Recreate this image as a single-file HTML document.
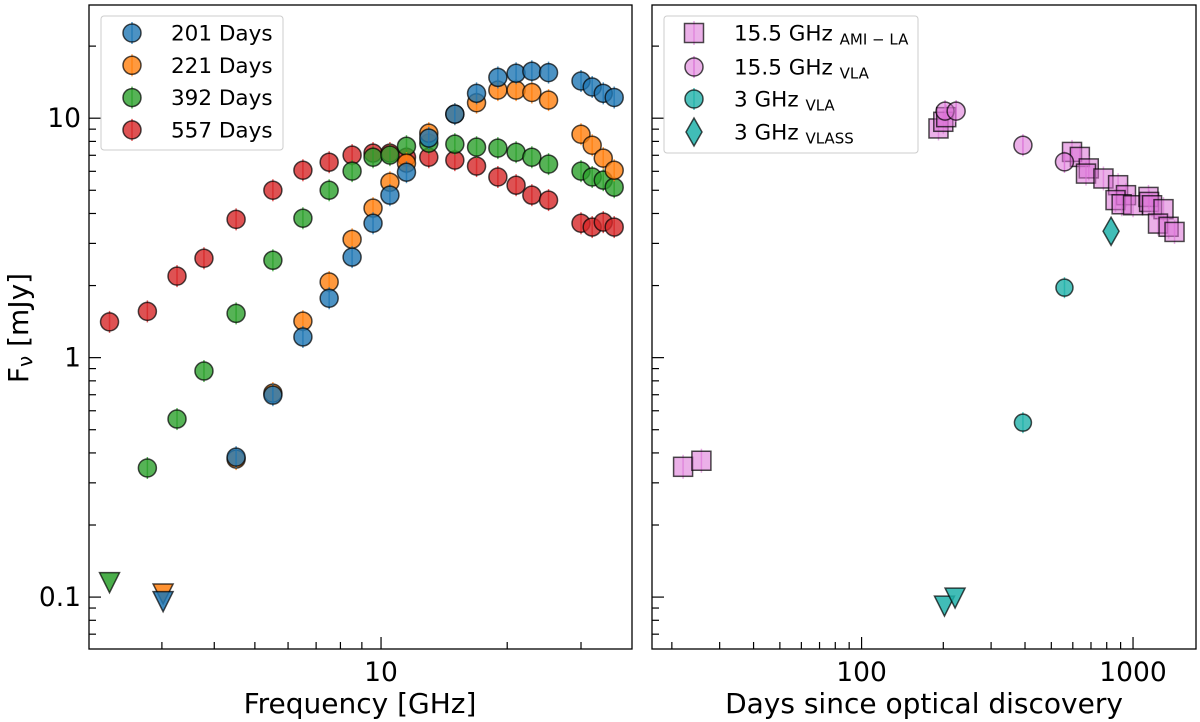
<!DOCTYPE html>
<html><head><meta charset="utf-8"><style>
html,body{margin:0;padding:0;background:#fff;}
svg{display:block;font-family:"DejaVu Sans","Liberation Sans",sans-serif;}
</style></head><body>
<svg id="chart" width="1200" height="722" viewBox="0 0 1200 722" xmlns="http://www.w3.org/2000/svg"></svg>
<script>
// ---------- Left panel data (SED) ----------
const freqs = [2.25,2.77,3.26,3.78,4.51,5.52,6.51,7.52,8.53,9.57,10.5,11.5,13.0,15.0,16.9,19.0,21.0,22.9,25.1,30.0,31.9,33.9,36.0];
const flux557 = [1.41,1.56,2.19,2.60,3.78,5.00,6.06,6.55,7.01,7.15,7.15,6.87,6.87,6.68,6.31,5.68,5.25,4.77,4.55,3.64,3.51,3.68,3.51];
const flux392 = [null,0.346,0.554,0.879,1.53,2.55,3.82,5.00,6.01,6.87,7.01,7.64,7.87,7.79,7.57,7.50,7.21,6.87,6.43,6.01,5.68,5.51,5.15];
const flux221 = [null,null,null,null,0.377,0.711,1.42,2.07,3.12,4.21,5.40,6.49,8.66,10.4,11.6,13.1,13.1,12.8,11.9,8.57,7.71,6.81,6.06];
const flux201 = [null,null,null,null,0.384,0.697,1.22,1.77,2.63,3.64,4.77,5.95,8.26,10.4,12.7,14.8,15.4,15.7,15.5,14.3,13.5,12.7,12.2];
const limitFreqs = [2.25,3.02,3.02];
const limitFlux = [0.116,0.104,0.0966];
const limitSeries = [2,1,0];
const seriesLabels = ["201 Days","221 Days","392 Days","557 Days"];
// ---------- Right panel data (light curve) ----------
const amiDays = [22.0,25.7,192,200,205,596,637,687,671,778,881,942,862,908,1000,1140,1146,1175,1295,1236,1352,1422];
const amiFlux = [0.350,0.371,9.06,9.66,10.1,7.23,6.89,6.17,5.87,5.60,5.25,4.77,4.55,4.37,4.33,4.69,4.47,4.33,4.17,3.63,3.52,3.35];
const vla15Days = [203,223,393,559];
const vla15Flux = [10.7,10.7,7.71,6.57];
const vla3Days = [393,559];
const vla3Flux = [0.535,1.96];
const vla3LimDays = [202,221];
const vla3LimFlux = [0.0926,0.100];
const vlassDays = [830];
const vlassFlux = [3.37];
const rightLabels = ["15.5 GHz","15.5 GHz","3 GHz","3 GHz"];
const rightSubs = ["AMI \u2212 LA","VLA","VLA","VLASS"];

const NS="http://www.w3.org/2000/svg";
const svg=document.getElementById('chart');
function mk(tag,attrs,parent){const e=document.createElementNS(NS,tag);for(const k in attrs)e.setAttribute(k,attrs[k]);(parent||svg).appendChild(e);return e;}

const TOP=5,BOT=649;
const yLogMin=Math.log10(0.0607), yLogMax=Math.log10(29.7);
function Y(v){return BOT-(Math.log10(v)-yLogMin)/(yLogMax-yLogMin)*(BOT-TOP);}
const L={x0:89,x1:632,lmin:Math.log10(2.01),lmax:Math.log10(39.7)};
const R={x0:652,x1:1196,lmin:Math.log10(16.9),lmax:Math.log10(1706)};
function X(p,v){return p.x0+(Math.log10(v)-p.lmin)/(p.lmax-p.lmin)*(p.x1-p.x0);}

const colors=["#1f77b4","#ff7f0e","#2ca02c","#d62728"];
const orchid="#da70d6", teal="#20b2aa";

function axes(p,name,showY){
  const g=mk('g',{});
  
  
  for(let e=-2;e<=1;e++){for(let m=1;m<10;m++){const v=m*Math.pow(10,e);if(v<0.0607||v>29.7)continue;const y=Y(v);
    const t=mk('line',{x1:p.x0,x2:p.x0+(m==1?12:7),y1:y,y2:y,stroke:'#000','stroke-width':1.2},g);
    
    if(m==1&&showY){const tx=mk('text',{x:p.x0-8,y:y+9,'text-anchor':'end','font-size':26.5},g);tx.textContent=(v<1?v.toFixed(1):String(v));
      }
  }}
  for(let e=0;e<=3;e++){for(let m=1;m<10;m++){const v=m*Math.pow(10,e);const lv=Math.log10(v);if(lv<p.lmin||lv>p.lmax)continue;const x=X(p,v);
    const t=mk('line',{x1:x,x2:x,y1:BOT,y2:BOT-(m==1?12:7),stroke:'#000','stroke-width':1.2},g);
    
    if(m==1){const tx=mk('text',{x:x,y:BOT+32,'text-anchor':'middle','font-size':26.5},g);tx.textContent=String(v);
      }
  }}
  const f=mk('rect',{x:p.x0,y:TOP,width:p.x1-p.x0,height:BOT-TOP,fill:'none',stroke:'#000','stroke-width':1.3},g);
  
}
function circle(x,y,c,r,g){
  mk('line',{x1:x,x2:x,y1:y-r-2,y2:y+r+2,stroke:c,'stroke-width':1.5,opacity:0.8},g);
  return mk('circle',{cx:x,cy:y,r:r,fill:c,'fill-opacity':0.8,stroke:'#000','stroke-opacity':0.7,'stroke-width':1.5},g);
}
function tri(x,y,c,g){
  return mk('polygon',{points:`${x-10},${y-9} ${x+10},${y-9} ${x},${y+11}`,fill:c,'fill-opacity':0.85,stroke:'#000','stroke-opacity':0.7,'stroke-width':1.5},g);
}
function square(x,y,c,g){
  mk('line',{x1:x,x2:x,y1:y-12,y2:y+12,stroke:c,'stroke-width':1.5,opacity:0.6},g);
  return mk('rect',{x:x-9.5,y:y-9.5,width:19,height:19,fill:c,'fill-opacity':0.55,stroke:'#000','stroke-opacity':0.7,'stroke-width':1.5},g);
}
function diamond(x,y,c,g){
  return mk('polygon',{points:`${x},${y-14} ${x+8},${y} ${x},${y+14} ${x-8},${y}`,fill:c,'fill-opacity':0.85,stroke:'#000','stroke-opacity':0.7,'stroke-width':1.5},g);
}

axes(L,'left-panel',true);
axes(R,'right-panel',false);

const series=[flux201,flux221,flux392,flux557];
const seriesNames=['series-201-days','series-221-days','series-392-days','series-557-days'];
[3,2,1,0].forEach(si=>{
  const g=mk('g',{});
  
  
  series[si].forEach((v,i)=>{if(v==null)return;
    const el=circle(X(L,freqs[i]),Y(v),colors[si],9,g);
    
    
  });
});
limitFreqs.forEach((f,i)=>{
  const el=tri(X(L,f),Y(limitFlux[i]),colors[limitSeries[i]]);
  
  
});

const gA=mk('g',{});
amiDays.forEach((d,i)=>{const el=square(X(R,d),Y(amiFlux[i]),orchid,gA);
  
  });
const gV=mk('g',{});
vla15Days.forEach((d,i)=>{const el=circle(X(R,d),Y(vla15Flux[i]),orchid,9,gV);el.setAttribute('fill-opacity',0.55);
  
  });
const gT=mk('g',{});
vla3Days.forEach((d,i)=>{const el=circle(X(R,d),Y(vla3Flux[i]),teal,8.5,gT);
  
  });
vla3LimDays.forEach((d,i)=>{const el=tri(X(R,d),Y(vla3LimFlux[i]),teal,gT);
  
  });
vlassDays.forEach((d,i)=>{const el=diamond(X(R,d),Y(vlassFlux[i]),teal);
  
  });

const lg=mk('g',{});
mk('rect',{x:101,y:16,width:182,height:134,rx:3,fill:'#fff','fill-opacity':0.8,stroke:'#ccc','stroke-width':1},lg);
seriesLabels.forEach((s,i)=>{const y=33+i*32.3;circle(132,y,colors[i],9,lg);
  const t=mk('text',{x:171,y:y+7.5,'font-size':21.5},lg);t.textContent=s;
  });
const rg=mk('g',{});
mk('rect',{x:664,y:16,width:254,height:137,rx:3,fill:'#fff','fill-opacity':0.8,stroke:'#ccc','stroke-width':1},rg);
rightLabels.forEach((s,i)=>{const y=[33,67,99,132][i];
  if(i==0)square(694,y,orchid,rg);else if(i==1){const c=circle(694,y,orchid,9,rg);c.setAttribute('fill-opacity',0.55);}
  else if(i==2)circle(694,y,teal,9,rg);else diamond(694,y,teal,rg);
  const t=mk('text',{x:734,y:y+7.5,'font-size':21.5},rg);t.textContent=s+' ';
  const ts=mk('tspan',{'font-size':15,dy:4},t);ts.textContent=rightSubs[i];
  });

let t=mk('text',{x:360,y:713,'text-anchor':'middle','font-size':28});t.textContent='Frequency [GHz]';

t=mk('text',{x:924,y:713,'text-anchor':'middle','font-size':28});t.textContent='Days since optical discovery';

t=mk('text',{x:0,y:0,'text-anchor':'middle','font-size':28,transform:'translate(28,328) rotate(-90)'});
t.textContent='F';const sub=mk('tspan',{'font-size':20,dy:4},t);sub.textContent='\u03bd';
const rest=mk('tspan',{dy:-4},t);rest.textContent=' [mJy]';

</script>
</body></html>
